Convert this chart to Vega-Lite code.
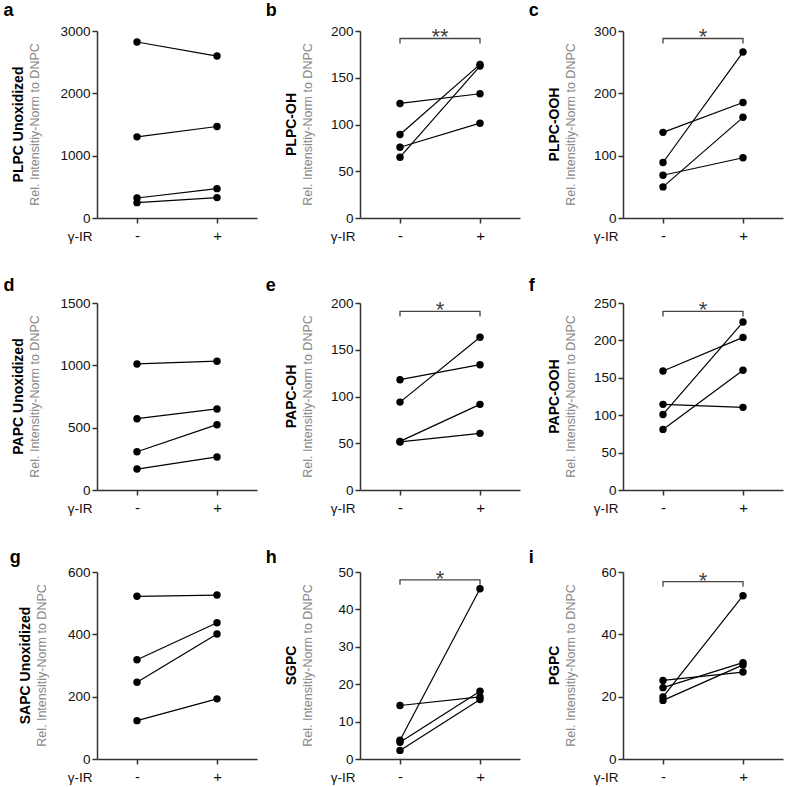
{
  "$schema": "https://vega.github.io/schema/vega-lite/v6.json",
  "padding": {"left": 3, "top": 2, "right": 2, "bottom": 2},
  "background": "white",
  "datasets": {
    "pts": [
      {"panel": "a", "subject": 1, "ir": 0, "value": 2823}, {"panel": "a", "subject": 1, "ir": 1, "value": 2598},
      {"panel": "a", "subject": 2, "ir": 0, "value": 1302}, {"panel": "a", "subject": 2, "ir": 1, "value": 1468},
      {"panel": "a", "subject": 3, "ir": 0, "value": 321}, {"panel": "a", "subject": 3, "ir": 1, "value": 471},
      {"panel": "a", "subject": 4, "ir": 0, "value": 246}, {"panel": "a", "subject": 4, "ir": 1, "value": 327},
      {"panel": "b", "subject": 1, "ir": 0, "value": 122.5}, {"panel": "b", "subject": 1, "ir": 1, "value": 132.9},
      {"panel": "b", "subject": 2, "ir": 0, "value": 89.3}, {"panel": "b", "subject": 2, "ir": 1, "value": 164.3},
      {"panel": "b", "subject": 3, "ir": 0, "value": 75.7}, {"panel": "b", "subject": 3, "ir": 1, "value": 101.4},
      {"panel": "b", "subject": 4, "ir": 0, "value": 65}, {"panel": "b", "subject": 4, "ir": 1, "value": 162.5},
      {"panel": "c", "subject": 1, "ir": 0, "value": 137.4}, {"panel": "c", "subject": 1, "ir": 1, "value": 185.2},
      {"panel": "c", "subject": 2, "ir": 0, "value": 89}, {"panel": "c", "subject": 2, "ir": 1, "value": 266.2},
      {"panel": "c", "subject": 3, "ir": 0, "value": 68.6}, {"panel": "c", "subject": 3, "ir": 1, "value": 96.6},
      {"panel": "c", "subject": 4, "ir": 0, "value": 49.9}, {"panel": "c", "subject": 4, "ir": 1, "value": 161.5},
      {"panel": "d", "subject": 1, "ir": 0, "value": 1011}, {"panel": "d", "subject": 1, "ir": 1, "value": 1033},
      {"panel": "d", "subject": 2, "ir": 0, "value": 572}, {"panel": "d", "subject": 2, "ir": 1, "value": 650},
      {"panel": "d", "subject": 3, "ir": 0, "value": 307}, {"panel": "d", "subject": 3, "ir": 1, "value": 524},
      {"panel": "d", "subject": 4, "ir": 0, "value": 168}, {"panel": "d", "subject": 4, "ir": 1, "value": 265},
      {"panel": "e", "subject": 1, "ir": 0, "value": 118}, {"panel": "e", "subject": 1, "ir": 1, "value": 134},
      {"panel": "e", "subject": 2, "ir": 0, "value": 94}, {"panel": "e", "subject": 2, "ir": 1, "value": 163.3},
      {"panel": "e", "subject": 3, "ir": 0, "value": 52}, {"panel": "e", "subject": 3, "ir": 1, "value": 91.6},
      {"panel": "e", "subject": 4, "ir": 0, "value": 51.4}, {"panel": "e", "subject": 4, "ir": 1, "value": 60.6},
      {"panel": "f", "subject": 1, "ir": 0, "value": 159}, {"panel": "f", "subject": 1, "ir": 1, "value": 204},
      {"panel": "f", "subject": 2, "ir": 0, "value": 114.5}, {"panel": "f", "subject": 2, "ir": 1, "value": 110.5},
      {"panel": "f", "subject": 3, "ir": 0, "value": 101}, {"panel": "f", "subject": 3, "ir": 1, "value": 224.5},
      {"panel": "f", "subject": 4, "ir": 0, "value": 81}, {"panel": "f", "subject": 4, "ir": 1, "value": 160},
      {"panel": "g", "subject": 1, "ir": 0, "value": 522}, {"panel": "g", "subject": 1, "ir": 1, "value": 526},
      {"panel": "g", "subject": 2, "ir": 0, "value": 318.5}, {"panel": "g", "subject": 2, "ir": 1, "value": 437},
      {"panel": "g", "subject": 3, "ir": 0, "value": 246}, {"panel": "g", "subject": 3, "ir": 1, "value": 401},
      {"panel": "g", "subject": 4, "ir": 0, "value": 123}, {"panel": "g", "subject": 4, "ir": 1, "value": 193},
      {"panel": "h", "subject": 1, "ir": 0, "value": 14.3}, {"panel": "h", "subject": 1, "ir": 1, "value": 16.6},
      {"panel": "h", "subject": 2, "ir": 0, "value": 5.0}, {"panel": "h", "subject": 2, "ir": 1, "value": 45.5},
      {"panel": "h", "subject": 3, "ir": 0, "value": 4.5}, {"panel": "h", "subject": 3, "ir": 1, "value": 18.1},
      {"panel": "h", "subject": 4, "ir": 0, "value": 2.3}, {"panel": "h", "subject": 4, "ir": 1, "value": 15.9},
      {"panel": "i", "subject": 1, "ir": 0, "value": 25.2}, {"panel": "i", "subject": 1, "ir": 1, "value": 27.9},
      {"panel": "i", "subject": 2, "ir": 0, "value": 22.9}, {"panel": "i", "subject": 2, "ir": 1, "value": 30.9},
      {"panel": "i", "subject": 3, "ir": 0, "value": 19.9}, {"panel": "i", "subject": 3, "ir": 1, "value": 52.4},
      {"panel": "i", "subject": 4, "ir": 0, "value": 18.8}, {"panel": "i", "subject": 4, "ir": 1, "value": 30.2}
    ],
    "brk": [
      {"panel": "b", "ord": 1, "ir": 0, "value": 186.6}, {"panel": "b", "ord": 2, "ir": 0, "value": 192}, {"panel": "b", "ord": 3, "ir": 1, "value": 192}, {"panel": "b", "ord": 4, "ir": 1, "value": 186.6},
      {"panel": "c", "ord": 1, "ir": 0, "value": 280}, {"panel": "c", "ord": 2, "ir": 0, "value": 288}, {"panel": "c", "ord": 3, "ir": 1, "value": 288}, {"panel": "c", "ord": 4, "ir": 1, "value": 280},
      {"panel": "e", "ord": 1, "ir": 0, "value": 185.6}, {"panel": "e", "ord": 2, "ir": 0, "value": 191}, {"panel": "e", "ord": 3, "ir": 1, "value": 191}, {"panel": "e", "ord": 4, "ir": 1, "value": 185.6},
      {"panel": "f", "ord": 1, "ir": 0, "value": 232.1}, {"panel": "f", "ord": 2, "ir": 0, "value": 238.8}, {"panel": "f", "ord": 3, "ir": 1, "value": 238.8}, {"panel": "f", "ord": 4, "ir": 1, "value": 232.1},
      {"panel": "h", "ord": 1, "ir": 0, "value": 46.6}, {"panel": "h", "ord": 2, "ir": 0, "value": 47.9}, {"panel": "h", "ord": 3, "ir": 1, "value": 47.9}, {"panel": "h", "ord": 4, "ir": 1, "value": 46.6},
      {"panel": "i", "ord": 1, "ir": 0, "value": 55.3}, {"panel": "i", "ord": 2, "ir": 0, "value": 56.9}, {"panel": "i", "ord": 3, "ir": 1, "value": 56.9}, {"panel": "i", "ord": 4, "ir": 1, "value": 55.3}
    ],
    "star": [
      {"panel": "b", "ir": 0.5, "value": 192, "label": "**"},
      {"panel": "c", "ir": 0.5, "value": 288, "label": "*"},
      {"panel": "e", "ir": 0.5, "value": 191, "label": "*"},
      {"panel": "f", "ir": 0.5, "value": 238.8, "label": "*"},
      {"panel": "h", "ir": 0.5, "value": 47.9, "label": "*"},
      {"panel": "i", "ir": 0.5, "value": 56.9, "label": "*"}
    ]
  },
  "config": {
    "font": "Liberation Sans",
    "view": {"stroke": null},
    "axis": {"grid": false, "domainColor": "#333", "domainWidth": 1.5, "tickColor": "#333", "tickWidth": 1.5, "tickSize": 5, "labelColor": "#111", "labelFont": "Liberation Sans"},
    "axisY": {"labelFontSize": 13.5, "labelPadding": 2, "title": null, "format": "d"},
    "axisX": {"labelFontSize": 15, "labelBaseline": "alphabetic", "labelPadding": 17, "titleX": -5, "titleY": 22, "titleAlign": "right", "titleBaseline": "alphabetic", "titleFontSize": 13.5, "titleFontWeight": "normal", "titleColor": "#111", "labelFlush": false},
    "title": {"font": "Liberation Sans", "color": "#000"}
  },
  "columns": 3,
  "align": "none",
  "spacing": {"row": 34, "column": 8},
  "concat": [
      {"title": {"text": "a", "anchor": "start", "fontSize": 18, "fontWeight": "bold", "dx": -9, "offset": 4},
       "vconcat": [{"width": 160, "height": 187,
        "title": {"text": "PLPC Unoxidized", "subtitle": "Rel. Intensitiy-Norm to DNPC", "orient": "left", "anchor": "middle", "frame": "group", "fontSize": 14, "fontWeight": "bold", "subtitleFontSize": 12.5, "subtitleColor": "#888", "subtitleFont": "Liberation Sans", "subtitlePadding": 3, "offset": 18},
        "encoding": {"x": {"field": "ir", "type": "quantitative", "scale": {"domain": [-0.5, 1.5]}, "axis": {"values": [0, 1], "labelExpr": "datum.value == 0 ? '-' : '+'", "title": "γ-IR"}},
                     "y": {"field": "value", "type": "quantitative", "scale": {"domain": [0, 3000], "nice": false}, "axis": {"values": [0, 1000, 2000, 3000]}}},
        "layer": [
          {"data": {"name": "pts"}, "transform": [{"filter": "datum.panel == 'a'"}], "mark": {"type": "line", "color": "#000", "strokeWidth": 1.2}, "encoding": {"detail": {"field": "subject"}}},
          {"data": {"name": "pts"}, "transform": [{"filter": "datum.panel == 'a'"}], "mark": {"type": "circle", "color": "#000", "size": 55, "opacity": 1}}
        ]}]},
      {"title": {"text": "b", "anchor": "start", "fontSize": 18, "fontWeight": "bold", "dx": -19, "offset": 4},
       "vconcat": [{"width": 160, "height": 187,
        "title": {"text": "PLPC-OH", "subtitle": "Rel. Intensitiy-Norm to DNPC", "orient": "left", "anchor": "middle", "frame": "group", "fontSize": 14, "fontWeight": "bold", "subtitleFontSize": 12.5, "subtitleColor": "#888", "subtitleFont": "Liberation Sans", "subtitlePadding": 3, "offset": 16},
        "encoding": {"x": {"field": "ir", "type": "quantitative", "scale": {"domain": [-0.5, 1.5]}, "axis": {"values": [0, 1], "labelExpr": "datum.value == 0 ? '-' : '+'", "title": "γ-IR"}},
                     "y": {"field": "value", "type": "quantitative", "scale": {"domain": [0, 200], "nice": false}, "axis": {"values": [0, 50, 100, 150, 200]}}},
        "layer": [
          {"data": {"name": "pts"}, "transform": [{"filter": "datum.panel == 'b'"}], "mark": {"type": "line", "color": "#000", "strokeWidth": 1.2}, "encoding": {"detail": {"field": "subject"}}},
          {"data": {"name": "pts"}, "transform": [{"filter": "datum.panel == 'b'"}], "mark": {"type": "circle", "color": "#000", "size": 55, "opacity": 1}},
          {"data": {"name": "brk"}, "transform": [{"filter": "datum.panel == 'b'"}], "mark": {"type": "line", "color": "#444", "strokeWidth": 1.3}, "encoding": {"order": {"field": "ord"}}},
          {"data": {"name": "star"}, "transform": [{"filter": "datum.panel == 'b'"}], "mark": {"type": "text", "color": "#444", "fontSize": 22, "baseline": "alphabetic", "dy": 6}, "encoding": {"text": {"field": "label"}}}
        ]}]},
      {"title": {"text": "c", "anchor": "start", "fontSize": 18, "fontWeight": "bold", "dx": -19, "offset": 4},
       "vconcat": [{"width": 160, "height": 187,
        "title": {"text": "PLPC-OOH", "subtitle": "Rel. Intensitiy-Norm to DNPC", "orient": "left", "anchor": "middle", "frame": "group", "fontSize": 14, "fontWeight": "bold", "subtitleFontSize": 12.5, "subtitleColor": "#888", "subtitleFont": "Liberation Sans", "subtitlePadding": 3, "offset": 16},
        "encoding": {"x": {"field": "ir", "type": "quantitative", "scale": {"domain": [-0.5, 1.5]}, "axis": {"values": [0, 1], "labelExpr": "datum.value == 0 ? '-' : '+'", "title": "γ-IR"}},
                     "y": {"field": "value", "type": "quantitative", "scale": {"domain": [0, 300], "nice": false}, "axis": {"values": [0, 100, 200, 300]}}},
        "layer": [
          {"data": {"name": "pts"}, "transform": [{"filter": "datum.panel == 'c'"}], "mark": {"type": "line", "color": "#000", "strokeWidth": 1.2}, "encoding": {"detail": {"field": "subject"}}},
          {"data": {"name": "pts"}, "transform": [{"filter": "datum.panel == 'c'"}], "mark": {"type": "circle", "color": "#000", "size": 55, "opacity": 1}},
          {"data": {"name": "brk"}, "transform": [{"filter": "datum.panel == 'c'"}], "mark": {"type": "line", "color": "#444", "strokeWidth": 1.3}, "encoding": {"order": {"field": "ord"}}},
          {"data": {"name": "star"}, "transform": [{"filter": "datum.panel == 'c'"}], "mark": {"type": "text", "color": "#444", "fontSize": 22, "baseline": "alphabetic", "dy": 6}, "encoding": {"text": {"field": "label"}}}
        ]}]},
      {"title": {"text": "d", "anchor": "start", "fontSize": 18, "fontWeight": "bold", "dx": -9, "offset": 1},
       "vconcat": [{"width": 160, "height": 187,
        "title": {"text": "PAPC Unoxidized", "subtitle": "Rel. Intensitiy-Norm to DNPC", "orient": "left", "anchor": "middle", "frame": "group", "fontSize": 14, "fontWeight": "bold", "subtitleFontSize": 12.5, "subtitleColor": "#888", "subtitleFont": "Liberation Sans", "subtitlePadding": 3, "offset": 18},
        "encoding": {"x": {"field": "ir", "type": "quantitative", "scale": {"domain": [-0.5, 1.5]}, "axis": {"values": [0, 1], "labelExpr": "datum.value == 0 ? '-' : '+'", "title": "γ-IR"}},
                     "y": {"field": "value", "type": "quantitative", "scale": {"domain": [0, 1500], "nice": false}, "axis": {"values": [0, 500, 1000, 1500]}}},
        "layer": [
          {"data": {"name": "pts"}, "transform": [{"filter": "datum.panel == 'd'"}], "mark": {"type": "line", "color": "#000", "strokeWidth": 1.2}, "encoding": {"detail": {"field": "subject"}}},
          {"data": {"name": "pts"}, "transform": [{"filter": "datum.panel == 'd'"}], "mark": {"type": "circle", "color": "#000", "size": 55, "opacity": 1}}
        ]}]},
      {"title": {"text": "e", "anchor": "start", "fontSize": 18, "fontWeight": "bold", "dx": -19, "offset": 1},
       "vconcat": [{"width": 160, "height": 187,
        "title": {"text": "PAPC-OH", "subtitle": "Rel. Intensitiy-Norm to DNPC", "orient": "left", "anchor": "middle", "frame": "group", "fontSize": 14, "fontWeight": "bold", "subtitleFontSize": 12.5, "subtitleColor": "#888", "subtitleFont": "Liberation Sans", "subtitlePadding": 3, "offset": 16},
        "encoding": {"x": {"field": "ir", "type": "quantitative", "scale": {"domain": [-0.5, 1.5]}, "axis": {"values": [0, 1], "labelExpr": "datum.value == 0 ? '-' : '+'", "title": "γ-IR"}},
                     "y": {"field": "value", "type": "quantitative", "scale": {"domain": [0, 200], "nice": false}, "axis": {"values": [0, 50, 100, 150, 200]}}},
        "layer": [
          {"data": {"name": "pts"}, "transform": [{"filter": "datum.panel == 'e'"}], "mark": {"type": "line", "color": "#000", "strokeWidth": 1.2}, "encoding": {"detail": {"field": "subject"}}},
          {"data": {"name": "pts"}, "transform": [{"filter": "datum.panel == 'e'"}], "mark": {"type": "circle", "color": "#000", "size": 55, "opacity": 1}},
          {"data": {"name": "brk"}, "transform": [{"filter": "datum.panel == 'e'"}], "mark": {"type": "line", "color": "#444", "strokeWidth": 1.3}, "encoding": {"order": {"field": "ord"}}},
          {"data": {"name": "star"}, "transform": [{"filter": "datum.panel == 'e'"}], "mark": {"type": "text", "color": "#444", "fontSize": 22, "baseline": "alphabetic", "dy": 6}, "encoding": {"text": {"field": "label"}}}
        ]}]},
      {"title": {"text": "f", "anchor": "start", "fontSize": 18, "fontWeight": "bold", "dx": -19, "offset": 1},
       "vconcat": [{"width": 160, "height": 187,
        "title": {"text": "PAPC-OOH", "subtitle": "Rel. Intensitiy-Norm to DNPC", "orient": "left", "anchor": "middle", "frame": "group", "fontSize": 14, "fontWeight": "bold", "subtitleFontSize": 12.5, "subtitleColor": "#888", "subtitleFont": "Liberation Sans", "subtitlePadding": 3, "offset": 16},
        "encoding": {"x": {"field": "ir", "type": "quantitative", "scale": {"domain": [-0.5, 1.5]}, "axis": {"values": [0, 1], "labelExpr": "datum.value == 0 ? '-' : '+'", "title": "γ-IR"}},
                     "y": {"field": "value", "type": "quantitative", "scale": {"domain": [0, 250], "nice": false}, "axis": {"values": [0, 50, 100, 150, 200, 250]}}},
        "layer": [
          {"data": {"name": "pts"}, "transform": [{"filter": "datum.panel == 'f'"}], "mark": {"type": "line", "color": "#000", "strokeWidth": 1.2}, "encoding": {"detail": {"field": "subject"}}},
          {"data": {"name": "pts"}, "transform": [{"filter": "datum.panel == 'f'"}], "mark": {"type": "circle", "color": "#000", "size": 55, "opacity": 1}},
          {"data": {"name": "brk"}, "transform": [{"filter": "datum.panel == 'f'"}], "mark": {"type": "line", "color": "#444", "strokeWidth": 1.3}, "encoding": {"order": {"field": "ord"}}},
          {"data": {"name": "star"}, "transform": [{"filter": "datum.panel == 'f'"}], "mark": {"type": "text", "color": "#444", "fontSize": 22, "baseline": "alphabetic", "dy": 6}, "encoding": {"text": {"field": "label"}}}
        ]}]},
      {"title": {"text": "g", "anchor": "start", "fontSize": 18, "fontWeight": "bold", "dx": -9, "offset": -2},
       "vconcat": [{"width": 160, "height": 187,
        "title": {"text": "SAPC Unoxidized", "subtitle": "Rel. Intensitiy-Norm to DNPC", "orient": "left", "anchor": "middle", "frame": "group", "fontSize": 14, "fontWeight": "bold", "subtitleFontSize": 12.5, "subtitleColor": "#888", "subtitleFont": "Liberation Sans", "subtitlePadding": 3, "offset": 19},
        "encoding": {"x": {"field": "ir", "type": "quantitative", "scale": {"domain": [-0.5, 1.5]}, "axis": {"values": [0, 1], "labelExpr": "datum.value == 0 ? '-' : '+'", "title": "γ-IR"}},
                     "y": {"field": "value", "type": "quantitative", "scale": {"domain": [0, 600], "nice": false}, "axis": {"values": [0, 200, 400, 600]}}},
        "layer": [
          {"data": {"name": "pts"}, "transform": [{"filter": "datum.panel == 'g'"}], "mark": {"type": "line", "color": "#000", "strokeWidth": 1.2}, "encoding": {"detail": {"field": "subject"}}},
          {"data": {"name": "pts"}, "transform": [{"filter": "datum.panel == 'g'"}], "mark": {"type": "circle", "color": "#000", "size": 55, "opacity": 1}}
        ]}]},
      {"title": {"text": "h", "anchor": "start", "fontSize": 18, "fontWeight": "bold", "dx": -19, "offset": -2},
       "vconcat": [{"width": 160, "height": 187,
        "title": {"text": "SGPC", "subtitle": "Rel. Intensitiy-Norm to DNPC", "orient": "left", "anchor": "middle", "frame": "group", "fontSize": 14, "fontWeight": "bold", "subtitleFontSize": 12.5, "subtitleColor": "#888", "subtitleFont": "Liberation Sans", "subtitlePadding": 3, "offset": 16},
        "encoding": {"x": {"field": "ir", "type": "quantitative", "scale": {"domain": [-0.5, 1.5]}, "axis": {"values": [0, 1], "labelExpr": "datum.value == 0 ? '-' : '+'", "title": "γ-IR"}},
                     "y": {"field": "value", "type": "quantitative", "scale": {"domain": [0, 50], "nice": false}, "axis": {"values": [0, 10, 20, 30, 40, 50]}}},
        "layer": [
          {"data": {"name": "pts"}, "transform": [{"filter": "datum.panel == 'h'"}], "mark": {"type": "line", "color": "#000", "strokeWidth": 1.2}, "encoding": {"detail": {"field": "subject"}}},
          {"data": {"name": "pts"}, "transform": [{"filter": "datum.panel == 'h'"}], "mark": {"type": "circle", "color": "#000", "size": 55, "opacity": 1}},
          {"data": {"name": "brk"}, "transform": [{"filter": "datum.panel == 'h'"}], "mark": {"type": "line", "color": "#444", "strokeWidth": 1.3}, "encoding": {"order": {"field": "ord"}}},
          {"data": {"name": "star"}, "transform": [{"filter": "datum.panel == 'h'"}], "mark": {"type": "text", "color": "#444", "fontSize": 22, "baseline": "alphabetic", "dy": 6}, "encoding": {"text": {"field": "label"}}}
        ]}]},
      {"title": {"text": "i", "anchor": "start", "fontSize": 18, "fontWeight": "bold", "dx": -19, "offset": -2},
       "vconcat": [{"width": 160, "height": 187,
        "title": {"text": "PGPC", "subtitle": "Rel. Intensitiy-Norm to DNPC", "orient": "left", "anchor": "middle", "frame": "group", "fontSize": 14, "fontWeight": "bold", "subtitleFontSize": 12.5, "subtitleColor": "#888", "subtitleFont": "Liberation Sans", "subtitlePadding": 3, "offset": 16},
        "encoding": {"x": {"field": "ir", "type": "quantitative", "scale": {"domain": [-0.5, 1.5]}, "axis": {"values": [0, 1], "labelExpr": "datum.value == 0 ? '-' : '+'", "title": "γ-IR"}},
                     "y": {"field": "value", "type": "quantitative", "scale": {"domain": [0, 60], "nice": false}, "axis": {"values": [0, 20, 40, 60]}}},
        "layer": [
          {"data": {"name": "pts"}, "transform": [{"filter": "datum.panel == 'i'"}], "mark": {"type": "line", "color": "#000", "strokeWidth": 1.2}, "encoding": {"detail": {"field": "subject"}}},
          {"data": {"name": "pts"}, "transform": [{"filter": "datum.panel == 'i'"}], "mark": {"type": "circle", "color": "#000", "size": 55, "opacity": 1}},
          {"data": {"name": "brk"}, "transform": [{"filter": "datum.panel == 'i'"}], "mark": {"type": "line", "color": "#444", "strokeWidth": 1.3}, "encoding": {"order": {"field": "ord"}}},
          {"data": {"name": "star"}, "transform": [{"filter": "datum.panel == 'i'"}], "mark": {"type": "text", "color": "#444", "fontSize": 22, "baseline": "alphabetic", "dy": 6}, "encoding": {"text": {"field": "label"}}}
        ]}]}
  ]
}
